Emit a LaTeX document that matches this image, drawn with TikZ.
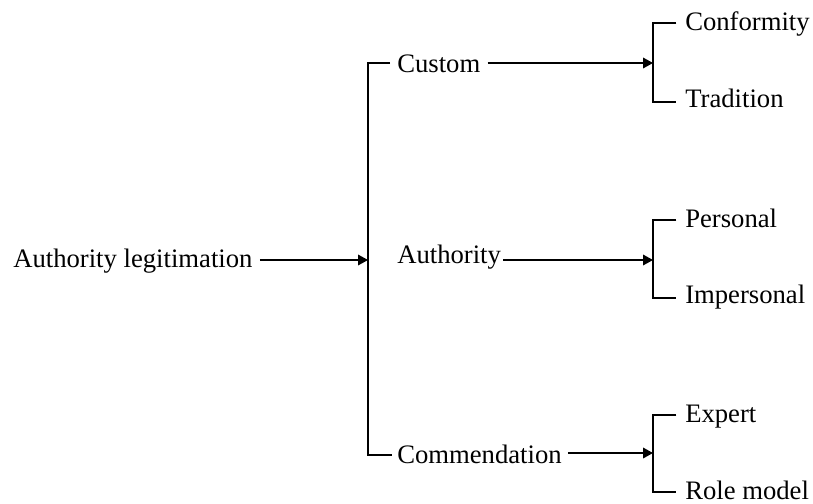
\documentclass[tikz,border=0pt]{standalone}
\usepackage{fontspec}
\setmainfont{Liberation Serif}
\usetikzlibrary{arrows.meta}
\begin{document}
\begin{tikzpicture}[x=0.75pt,y=-0.75pt,
  lbl/.style={inner sep=0pt,anchor=base west,font=\fontsize{20}{24}\selectfont},
  ln/.style={line width=1pt,line join=miter},
  arr/.style={ln,-{Triangle[length=7.5pt,width=8pt]}}]
\useasboundingbox (0,0) rectangle (813,503);

% text nodes
\node[lbl] (al) at (13,267) {Authority legitimation};
\node[lbl] (custom) at (397,73) {Custom};
\node[lbl] (auth) at (397,263) {Authority};
\node[lbl] (comm) at (397,463) {Commendation};
\node[lbl] (conf) at (685,31) {Conformity};
\node[lbl] (trad) at (685,108) {Tradition};
\node[lbl] (pers) at (685,227) {Personal};
\node[lbl] (imp) at (685,303) {Impersonal};
\node[lbl] (expert) at (685,422) {Expert};
\node[lbl] (role) at (685,499) {Role model};

% junction points
\coordinate (lT) at (368,63);
\coordinate (lM) at (368,260);
\coordinate (lB) at (368,455);
\coordinate (rT1) at (653,23);
\coordinate (rTm) at (653,63);
\coordinate (rT2) at (653,102);
\coordinate (rM1) at (653,220);
\coordinate (rMm) at (653,260);
\coordinate (rM2) at (653,298);
\coordinate (rB1) at (653,415);
\coordinate (rBm) at (653,453);
\coordinate (rB2) at (653,492);

% left bracket
\draw[ln] ([xshift=-5.25pt]custom.west |- lT) -- (lT) -- (lB) -- ([xshift=-3.75pt]comm.west |- lB);
\draw[arr] ([xshift=5.25pt]al.east |- lM) -- (lM);

% arrows to right brackets
\draw[arr] ([xshift=5.25pt]custom.east |- rTm) -- (rTm);
\draw[arr] ([xshift=1.5pt]auth.east |- rMm) -- (rMm);
\draw[arr] ([xshift=4.5pt]comm.east |- rBm) -- (rBm);

% right brackets
\draw[ln] ([xshift=-6.5pt]conf.west |- rT1) -- (rT1) -- (rT2) -- ([xshift=-6.5pt]trad.west |- rT2);
\draw[ln] ([xshift=-6.5pt]pers.west |- rM1) -- (rM1) -- (rM2) -- ([xshift=-6.5pt]imp.west |- rM2);
\draw[ln] ([xshift=-6.5pt]expert.west |- rB1) -- (rB1) -- (rB2) -- ([xshift=-6.5pt]role.west |- rB2);
\end{tikzpicture}
\end{document}
